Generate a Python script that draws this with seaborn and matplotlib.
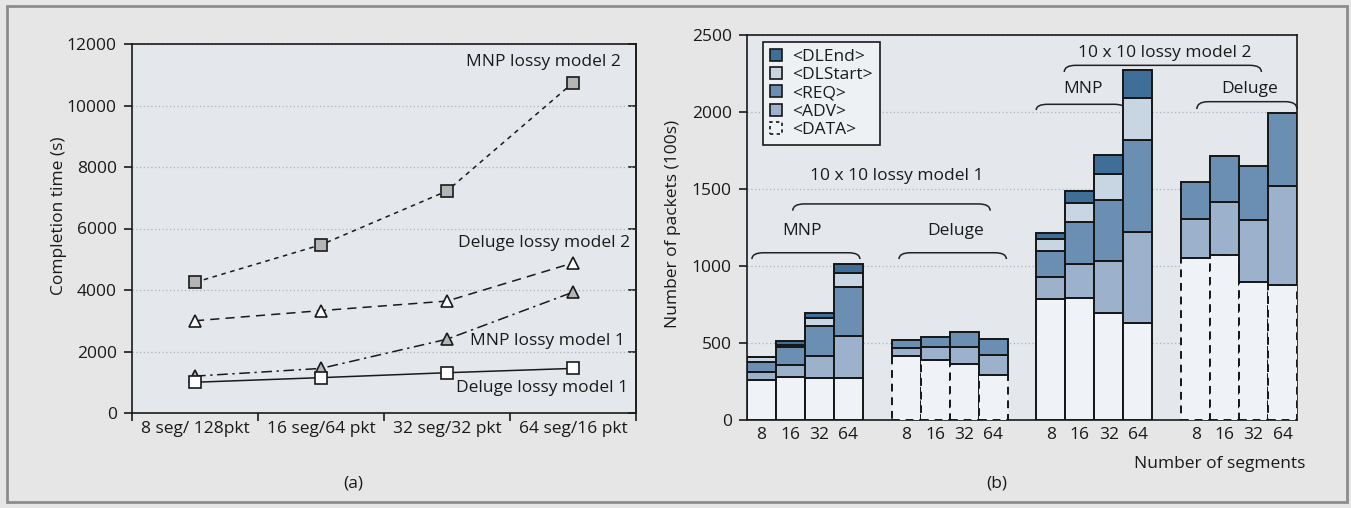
import numpy as np
import pandas as pd
import matplotlib
matplotlib.use("Agg")
import matplotlib.pyplot as plt
from matplotlib.patches import Patch, Rectangle, PathPatch
from matplotlib.path import Path
import seaborn as sns

# ---- (a) completion time per configuration ----
configs = ["8 seg/ 128pkt", "16 seg/64 pkt", "32 seg/32 pkt", "64 seg/16 pkt"]
mnp_model2 = [4250, 5470, 7220, 10740]
deluge_model2 = [3000, 3330, 3640, 4880]
mnp_model1 = [1200, 1450, 2400, 3930]
deluge_model1 = [1000, 1150, 1310, 1450]

# ---- (b) packet breakdown, 4 groups x 4 segment counts ----
groups = ["MNP model 1", "Deluge model 1", "MNP model 2", "Deluge model 2"]
segments = ["8", "16", "32", "64"]
data_pkts = [262, 277, 271, 275, 416, 390, 361, 290, 788, 794, 695, 631, 1054, 1069, 896, 874]
adv_pkts = [52, 80, 145, 270, 52, 82, 111, 132, 143, 221, 340, 587, 253, 347, 405, 645]
req_pkts = [65, 115, 194, 321, 51, 69, 97, 106, 166, 271, 391, 602, 238, 296, 348, 476]
dlstart_pkts = [28, 17, 54, 86, 0, 0, 0, 0, 76, 121, 171, 273, 0, 0, 0, 0]
dlend_pkts = [4, 25, 29, 59, 0, 0, 0, 0, 39, 82, 124, 177, 0, 0, 0, 0]

FIG_BG = "#e6e6e6"
AX_BG = "#e4e8ed"
EDGE = "#161616"
layer_colors = {
    "<DLEnd>": "#3f6e98",
    "<DLStart>": "#c8d5e2",
    "<REQ>": "#6b8fb3",
    "<ADV>": "#9cb2cc",
    "<DATA>": "#eff3f7",
}

FS = 12.5
sns.set_theme(style="ticks")
plt.rcParams.update({
    "font.family": ["Open Sans", "DejaVu Sans"],
    "font.size": FS,
    "axes.labelsize": FS,
    "xtick.labelsize": FS,
    "ytick.labelsize": FS,
    "legend.fontsize": FS,
    "axes.linewidth": 1.2,
    "text.color": "#1a1a1a",
    "axes.labelcolor": "#1a1a1a",
    "xtick.color": "#1a1a1a",
    "ytick.color": "#1a1a1a",
})

fig = plt.figure(figsize=(13.51, 5.08), dpi=100, facecolor=FIG_BG)
fig.patches.append(Rectangle((7 / 1351, 6 / 508), 1340 / 1351, 496 / 508,
                             transform=fig.transFigure, fill=False,
                             edgecolor="#8c8c8c", lw=2))

# ================= (a) =================
ax1 = fig.add_axes([132 / 1351, 95 / 508, 504 / 1351, 369 / 508])
ax1.set_facecolor(AX_BG)
xpos = np.arange(len(configs)) + 0.5

series = [
    (mnp_model2, "s", "#b5b5b5", (0, (3, 3))),
    (deluge_model2, "^", "white", (0, (6, 4))),
    (mnp_model1, "^", "#b5b5b5", (0, (7, 3, 1.5, 3))),
    (deluge_model1, "s", "white", "-"),
]
for vals, mk, fc, ls in series:
    sns.lineplot(x=xpos, y=vals, ax=ax1, color="#1a1a1a", linewidth=1.1,
                 linestyle=ls, marker=mk, markersize=8, markerfacecolor=fc,
                 markeredgecolor="#1a1a1a", markeredgewidth=1.2,
                 errorbar=None, zorder=3)

ax1.set_xlim(0, 4)
ax1.set_ylim(0, 12000)
ax1.set_yticks(np.arange(0, 12001, 2000))
ax1.yaxis.grid(True, linestyle=(0, (1, 2)), color="#b0b0b0", linewidth=0.9)
ax1.set_axisbelow(True)
ax1.set_xticks(np.arange(0, 5))
ax1.set_xticklabels([])
ax1.set_xticks(xpos, minor=True)
ax1.set_xticklabels(configs, minor=True)
ax1.tick_params(axis="x", which="major", length=6, width=1.2, direction="out")
ax1.tick_params(axis="x", which="minor", length=0, pad=6)
ax1.tick_params(axis="y", length=6, width=1.2, pad=5)
sec = ax1.secondary_yaxis("right")
sec.set_yticks(np.arange(0, 12001, 2000))
sec.tick_params(direction="in", length=6, width=1.2, labelright=False)
for s in ax1.spines.values():
    s.set_color("#1a1a1a")
ax1.set_ylabel("Completion time (s)")
ax1.yaxis.set_label_coords(-0.128, 0.534)

labels_a = [
    ("MNP lossy model 2", 3.88, 11420),
    ("Deluge lossy model 2", 3.95, 5530),
    ("MNP lossy model 1", 3.91, 2340),
    ("Deluge lossy model 1", 3.94, 810),
]
for txt, tx, ty in labels_a:
    ax1.text(tx, ty, txt, ha="right", va="center")

fig.text(353 / 1351, 1 - 483 / 508, "(a)", ha="center", va="center")

# ================= (b) =================
ax2 = fig.add_axes([747 / 1351, 88 / 508, 550 / 1351, 385 / 508])
ax2.set_facecolor(AX_BG)

pos = np.array([g * 5 + i + 0.5 for g in range(len(groups)) for i in range(len(segments))])
is_deluge = np.array([("Deluge" in groups[g]) for g in range(len(groups)) for _ in segments])
layers = [
    ("<DATA>", np.array(data_pkts)),
    ("<ADV>", np.array(adv_pkts)),
    ("<REQ>", np.array(req_pkts)),
    ("<DLStart>", np.array(dlstart_pkts)),
    ("<DLEnd>", np.array(dlend_pkts)),
]
bottom = np.zeros(len(pos))
for name, vals in layers:
    if name == "<DATA>":
        parts = [(~is_deluge, "-"), (is_deluge, (0, (4, 3)))]
    else:
        parts = [(np.ones(len(pos), bool), "-")]
    for mask, ls in parts:
        m = mask & (vals > 0)
        df = pd.DataFrame({"x": pos[m], "y": vals[m]})
        sns.barplot(data=df, x="x", y="y", native_scale=True, width=1,
                    bottom=bottom[m], color=layer_colors[name], saturation=1,
                    edgecolor=EDGE, linewidth=1.4, linestyle=ls,
                    errorbar=None, ax=ax2, zorder=3)
    bottom = bottom + vals

ax2.set_xlim(0, 19)
ax2.set_ylim(0, 2500)
ax2.set_yticks(np.arange(0, 2501, 500))
ax2.yaxis.grid(True, linestyle=(0, (1, 2)), color="#b0b0b0", linewidth=0.9)
ax2.set_axisbelow(True)
ax2.set_xticks(pos)
ax2.set_xticklabels(segments * len(groups))
ax2.tick_params(axis="x", length=0, pad=5)
ax2.tick_params(axis="y", length=6, width=1.2, pad=5)
for s in ax2.spines.values():
    s.set_color("#1a1a1a")
ax2.set_xlabel("")
ax2.set_ylabel("Number of packets (100s)")
ax2.yaxis.set_label_coords(-0.12, 0.51)


def bracket(ax, x0, x1, y, drop, rx=0.4):
    verts = [(x0, y - drop), (x0, y), (x0 + rx, y), (x1 - rx, y), (x1, y), (x1, y - drop)]
    codes = [Path.MOVETO, Path.CURVE3, Path.CURVE3, Path.LINETO, Path.CURVE3, Path.CURVE3]
    ax.add_patch(PathPatch(Path(verts, codes), fill=False, lw=1.1,
                           edgecolor="#222222", zorder=2, clip_on=False))


brackets = [
    (0.17, 3.9, 1086, 41), (5.25, 8.96, 1086, 41), (1.58, 8.4, 1403, 44),
    (9.99, 13.08, 2050, 37), (15.54, 19.0, 2067, 48), (10.96, 17.77, 2303, 43),
]
for b in brackets:
    bracket(ax2, *b)

labels_b = [
    ("MNP", 1.9, 1229), ("Deluge", 7.2, 1229), ("10 x 10 lossy model 1", 5.17, 1584),
    ("MNP", 11.6, 2147), ("Deluge", 17.37, 2147), ("10 x 10 lossy model 2", 14.43, 2381),
]
for txt, tx, ty in labels_b:
    ax2.text(tx, ty, txt, ha="center", va="center")

handles = []
for name in ["<DLEnd>", "<DLStart>", "<REQ>", "<ADV>", "<DATA>"]:
    ls = (0, (2, 2)) if name == "<DATA>" else "-"
    handles.append(Patch(facecolor=layer_colors[name], edgecolor=EDGE,
                         linewidth=1.2, linestyle=ls, label=name))
leg = ax2.legend(handles=handles, loc="upper left", bbox_to_anchor=(0.029, 0.982),
                 borderaxespad=0, fancybox=False, framealpha=1,
                 facecolor="#eef1f4", edgecolor="#1a1a1a",
                 handlelength=0.7, handleheight=0.7, handletextpad=0.6,
                 labelspacing=0.12, borderpad=0.4)
leg.get_frame().set_linewidth(1.2)

fig.text(1305 / 1351, 1 - 464 / 508, "Number of segments", ha="right", va="center")
fig.text(997 / 1351, 1 - 483 / 508, "(b)", ha="center", va="center")

fig.savefig("out.png", dpi=100, facecolor=FIG_BG)
